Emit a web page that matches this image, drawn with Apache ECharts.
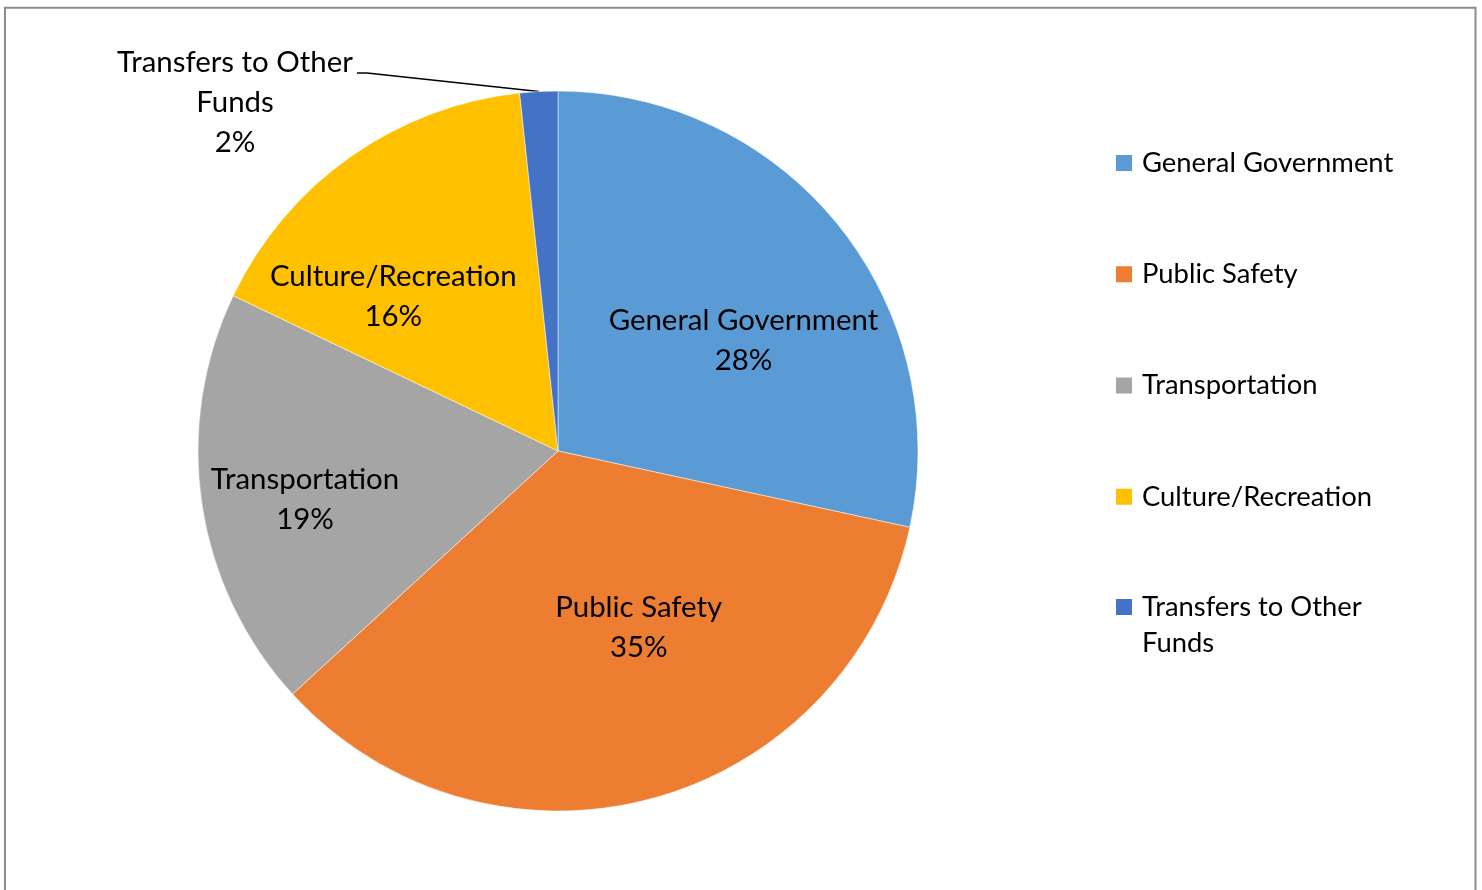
<!DOCTYPE html>
<html>
<head>
<meta charset="utf-8">
<script src="https://cdn.jsdelivr.net/npm/echarts@6/dist/echarts.min.js"></script>
<style>
  html, body { margin: 0; padding: 0; background: #fff; }
  #chart { width: 1482px; height: 890px; }
</style>
</head>
<body>
<div id="chart"></div>
<script>
const categories = ['General Government', 'Public Safety', 'Transportation', 'Culture/Recreation', 'Transfers to Other Funds'];
const legendLabels = ['General Government', 'Public Safety', 'Transportation', 'Culture/Recreation', 'Transfers to Other\nFunds'];
const values = [28.4, 34.8, 18.9, 16.2, 1.7];
const colors = ['#5B9BD5', '#ED7D31', '#A5A5A5', '#FFC000', '#4472C4'];

// label nudges (style only)
const labelShift = [[43, 4], [33, 0], [-72, 22], [-59, -5]];

const FONT = 'Lato';
const chart = echarts.init(document.getElementById('chart'), null, { renderer: 'canvas' });

const data = categories.map((c, i) => {
  const d = { name: c, value: values[i], itemStyle: { color: colors[i] } };
  if (i === 4) {
    d.label = { position: 'outside', formatter: 'Transfers to Other\nFunds\n{d}%' };
    d.labelLine = { show: true, length: 20, length2: 20, lineStyle: { color: '#000', width: 1.5 } };
  }
  return d;
});

const legendCommon = {
  orient: 'vertical',
  left: 1116,
  padding: 0,
  itemWidth: 16,
  itemHeight: 16,
  itemGap: 75.25,
  icon: 'rect',
  itemStyle: { borderWidth: 0 },
  textStyle: { fontFamily: FONT, fontSize: 27.4, color: '#000', lineHeight: 36, padding: [0, 0, 0, 5] }
};

chart.setOption({
  animation: false,
  backgroundColor: '#fff',
  graphic: [{
    type: 'rect', silent: true, z: -10,
    shape: { x: 5, y: 7.7, width: 1470.5, height: 900 },
    style: { fill: 'none', stroke: '#8c8c8c', lineWidth: 2 }
  }],
  legend: [
    Object.assign({}, legendCommon, {
      top: 145,
      data: categories.slice(0, 4)
    }),
    Object.assign({}, legendCommon, {
      top: 553,
      // blank first line keeps the icon level with the first text line
      formatter: function (name) { return '\n' + legendLabels[categories.indexOf(name)]; },
      data: categories.slice(4)
    })
  ],
  series: [{
    type: 'pie',
    center: [558, 451],
    radius: [0, 360],
    startAngle: 90,
    clockwise: true,
    percentPrecision: 0,
    avoidLabelOverlap: false,
    itemStyle: { borderColor: '#fff', borderWidth: 0.5 },
    label: {
      show: true,
      position: 'inside',
      formatter: '{b}\n{d}%',
      fontFamily: FONT,
      fontSize: 29.4,
      lineHeight: 40,
      color: '#000',
      align: 'center'
    },
    labelLine: { show: false },
    labelLayout: function (params) {
      const i = params.dataIndex;
      if (i === 4) {
        const p0 = params.labelLinePoints ? params.labelLinePoints[0] : [538, 92];
        return {
          x: 235, y: 103, align: 'center', verticalAlign: 'middle',
          labelLinePoints: [p0, [367, 73], [357, 73]]
        };
      }
      return { dx: labelShift[i][0], dy: labelShift[i][1] };
    },
    emphasis: { disabled: true },
    data: data
  }]
});
</script>
</body>
</html>
